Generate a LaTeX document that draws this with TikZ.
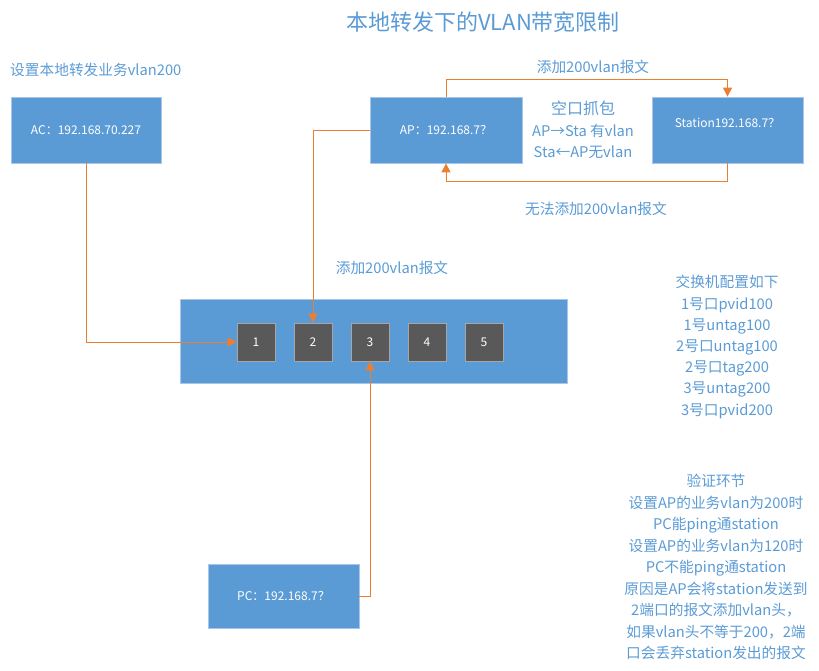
\documentclass[tikz,border=0pt]{standalone}
\usepackage{fontspec}
\setmainfont{Noto Sans CJK SC}
\usepackage{tikz}
\usetikzlibrary{arrows.meta, positioning}
\definecolor{boxblue}{HTML}{5B9BD5}
\definecolor{boxedge}{HTML}{A9C6E8}
\definecolor{portgray}{HTML}{595959}
\definecolor{portedge}{HTML}{A6A6A6}
\definecolor{linkorange}{HTML}{ED7D31}
\definecolor{txtblue}{HTML}{5B9BD5}

\begin{document}
\begin{tikzpicture}[
    x=1pt, y=-1pt,
    node distance=18.2pt,
    host/.style={rectangle, draw=boxedge, fill=boxblue, text=white, line width=0.8pt, minimum width=151pt, minimum height=66pt, align=center, font=\fontsize{12}{14}\selectfont},
    port/.style={rectangle, draw=portedge, fill=portgray, text=white, line width=0.8pt, minimum width=38pt, minimum height=38pt, font=\fontsize{12}{14}\selectfont},
    note/.style={text=txtblue, align=center, font=\fontsize{14.7}{21.5}\selectfont, inner sep=0pt},
    arr/.style={-{Triangle[length=9pt, width=9pt]}, linkorange, line width=1pt},
  ]
    \useasboundingbox (0,0) rectangle (819,670);

    \node[note, font=\fontsize{22}{26}\selectfont] (title) at (483,22) {本地转发下的VLAN带宽限制};
    \node[note, anchor=west] (acnote) at (10,70) {设置本地转发业务vlan200};

    % hosts
    \node[host, minimum width=150pt] (ac) at (86,130) {AC：192.168.70.227};
    \node[host, minimum width=152pt] (ap) at (446,130) {AP：192.168.7？};
    \node[host, text depth=14pt] (sta) at (727.5,130) {Station192.168.7？};
    \node[host, minimum height=64pt] (pc) at (283.5,596) {PC：192.168.7？};

    % switch and its ports
    \node[host, minimum width=387pt, minimum height=84pt] (sw) at (374,341.5) {};
    \node[port] (p1) at (256,342) {1};
    \node[port, right=of p1] (p2) {2};
    \node[port, right=of p2] (p3) {3};
    \node[port, right=of p3] (p4) {4};
    \node[port, right=of p4] (p5) {5};

    \node[note] (cap) at (583,130) {{\fontsize{16}{18}\selectfont 空口抓包}\\AP→Sta 有vlan\\Sta←AP无vlan};
    \node[note] (addok) at (593,67) {添加200vlan报文};
    \node[note] (addfail) at (596,209) {无法添加200vlan报文};
    \node[note] (addsw) at (392,268) {添加200vlan报文};

    \node[note, font=\fontsize{14.7}{21.2}\selectfont] (swcfg) at (727,347) {交换机配置如下\\1号口pvid100\\1号untag100\\2号口untag100\\2号口tag200\\3号untag200\\3号口pvid200};
    \node[note, font=\fontsize{14.7}{21.5}\selectfont] (verify) at (716,567) {验证环节\\设置AP的业务vlan为200时\\PC能ping通station\\设置AP的业务vlan为120时\\PC不能ping通station\\原因是AP会将station发送到\\2端口的报文添加vlan头，\\如果vlan头不等于200，2端\\口会丢弃station发出的报文};

    \draw[arr] (ac.south) |- (p1.west);
    \draw[arr] (ap.west) -| (p2.north);
    \draw[arr] (pc.east) -| (p3.south);
    \draw[arr] (ap.north) -- ++(0,-17) -| (sta.north);
    \draw[arr] (sta.south) -- ++(0,18) -| (ap.south);
  \end{tikzpicture}
\end{document}
